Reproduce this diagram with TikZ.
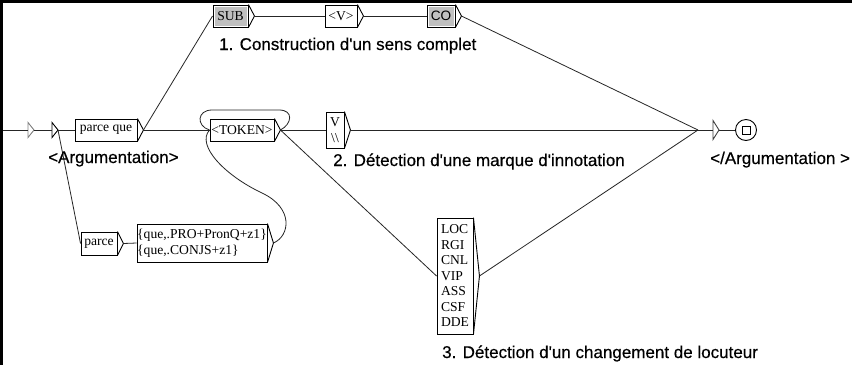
\documentclass[tikz,border=0pt]{standalone}
\usepackage{fontspec}
\setmainfont{Liberation Serif}[Ligatures=TeXOff]
\newfontfamily\labfont{Liberation Sans}[Ligatures=TeXOff, FakeBold=0.4]
\newfontfamily\cofont{Liberation Sans}[Ligatures=TeXOff]
\definecolor{subgray}{HTML}{C0C0C0}
\begin{document}
\begin{tikzpicture}[x=1pt,y=-1pt,
  box/.style={draw=black, line width=0.9pt, fill=white, inner sep=0pt,
    font=\fontsize{13.6}{15.5}\selectfont},
  callbox/.style={box, path picture={\fill[subgray]
    ([shift={(1.5pt,-1.5pt)}]path picture bounding box.north west) rectangle
    ([shift={(-1.5pt,1.5pt)}]path picture bounding box.south east);}},
  wire/.style={draw=black!85, line width=0.8pt},
  edge/.style={draw=black, line width=0.9pt, line join=miter},
  lab/.style={font=\labfont\fontsize{17}{17}\selectfont, anchor=base west, inner sep=0pt}]
\fill[white] (0,0) rectangle (852,365);
\useasboundingbox (0,0) rectangle (852,365);

% frame (top and left edges)
\fill[black] (0,0) rectangle (852,3);
\fill[black] (0,0) rectangle (3,365);

% right-pointing triangle attached to a box
\newcommand\outtri[1]{\draw[edge] (#1.north east) -- ([xshift=6pt]#1.east) coordinate (#1-o) -- (#1.south east);}

% boxes
\node[box, minimum width=62pt, minimum height=22pt] (pq) at (106,130) {parce que};
\node[box, minimum width=64pt, minimum height=22pt] (token) at (242,130) {<TOKEN>};
\node[box, minimum width=18pt, minimum height=36pt, align=center] (vb) at (335,130) {V\\\textbackslash\textbackslash};
\node[callbox, minimum width=35pt, minimum height=22pt] (sub) at (230.5,16) {SUB};
\node[box, minimum width=32pt, minimum height=22pt] (vt) at (341,16) {<V>};
\node[callbox, minimum width=28pt, minimum height=22pt, font=\cofont\fontsize{13.6}{13.6}\selectfont] (co) at (441,16) {CO};
\node[box, minimum width=36pt, minimum height=23pt] (parce) at (99,243.5) {parce};
\node[box, minimum width=130pt, minimum height=38pt, align=left] (que) at (202,243) {\{que,.PRO+PronQ+z1\}\\\{que,.CONJS+z1\}};
\node[box, minimum width=36pt, minimum height=116pt, align=left] (loc) at (455,276) {LOC\\RGI\\CNL\\VIP\\ASS\\CSF\\DDE};
\foreach \b in {pq,token,vb,sub,vt,co,parce,que,loc} {\outtri{\b}}

% initial state, empty output box, final state
\coordinate (in0) at (3,130);
\coordinate (ini) at (28,130);
\draw[edge, draw=black!50] (ini) ++(0,-7.5) -- ++(6,7.5) coordinate (ini-o) -- ++(-6,7.5) -- cycle;
\coordinate (arg) at (52,130);
\draw[edge] (arg) ++(0,-7.5) -- ++(6,7.5) coordinate (arg-o) -- ++(-6,7.5) -- cycle;
\coordinate (merge) at (698,130);
\coordinate (fin) at (713,130);
\draw[edge, draw=black!75] (fin) ++(0,-9.5) -- ++(6,9.5) coordinate (fin-o) -- ++(-6,9.5) -- cycle;
\node[draw=black, line width=0.9pt, circle, minimum size=21pt, inner sep=0pt] (end) at (746,130) {};
\node[draw=black, line width=0.9pt, minimum size=8pt, inner sep=0pt] (endsq) at (end.center) {};

% transitions
\draw[wire] (in0) -- (ini);
\draw[wire] (ini-o) -- (arg);
\draw[wire] (arg-o) -- (pq.west);
\draw[wire] (arg-o) -- (parce.west);
\draw[wire] (pq-o) -- (sub.west);
\draw[wire] (pq-o) -- (token.west);
\draw[wire] (sub-o) -- (vt.west);
\draw[wire] (vt-o) -- (co.west);
\draw[wire] (token-o) -- (vb.west);
\draw[wire] (token-o) -- (loc.west);
\draw[wire] (parce-o) -- (que.west);
\draw[wire] (co-o) -- (merge);
\draw[wire] (vb-o) -- (merge);
\draw[wire] (loc-o) -- (merge);
\draw[wire] (merge) -- (fin);
\draw[wire] (fin-o) -- (end.west);
% loop on <TOKEN>
\draw[wire] (token-o) .. controls (292,124) and (294,110) .. (279,110)
  -- (212,110) .. controls (197,110) and (196,126) .. (token.west);
% back to <TOKEN>
\draw[wire] (que-o) .. controls (290,236) and (294,208) .. (262,193)
  .. controls (224,175) and (196,145) .. (token.west);

% labels
\node[lab] (l1) at (219,50) {1. Construction d'un sens complet};
\node[lab] (l2) at (333,166) {2. Détection d'une marque d'innotation};
\node[lab] (l3) at (442,358) {3. Détection d'un changement de locuteur};
\node[lab] (largin) at (48,163) {<Argumentation>};
\node[lab] (largout) at (710,164) {</Argumentation >};
\end{tikzpicture}
\end{document}
